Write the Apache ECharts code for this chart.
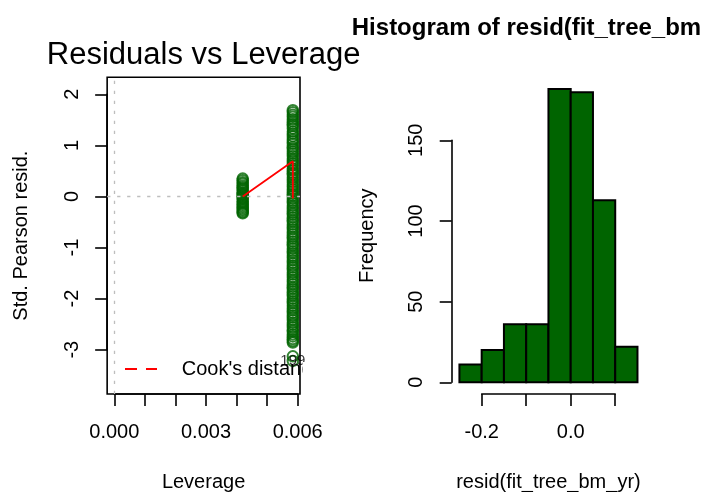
<!DOCTYPE html>
<html>
<head>
<meta charset="utf-8">
<script src="https://cdn.jsdelivr.net/npm/echarts@6/dist/echarts.min.js"></script>
<style>
html,body{margin:0;padding:0;background:#fff;}
#chart{width:701px;height:492px;}
</style>
</head>
<body>
<div id="chart"></div>
<script>
// ---------- data ----------
var leverageGroup1 = 0.0042;
var leverageGroup2 = 0.00584;
var residGroup1 = [0.35, 0.32, 0.28, 0.25, 0.21, 0.18, 0.15, 0.12, 0.08, 0.05, 0.03, 0.0, -0.03, -0.06, -0.1, -0.13, -0.16, -0.19, -0.22, -0.25, -0.28, -0.31, -0.33];
var residGroup2 = [1.69, 1.65, 1.6, 1.56, 1.51, 1.47, 1.42, 1.38, 1.33, 1.27, 1.23, 1.18, 1.12, 1.08, 1.03, 0.97, 0.93, 0.88, 0.84, 0.79, 0.74, 0.7, 0.65, 0.61, 0.55, 0.51, 0.46, 0.42, 0.37, 0.33, 0.28, 0.23, 0.19, 0.14, 0.1, 0.05, 0.01, -0.04, -0.09, -0.13, -0.18, -0.22, -0.27, -0.32, -0.36, -0.41, -0.46, -0.5, -0.55, -0.6, -0.64, -0.69, -0.74, -0.79, -0.83, -0.88, -0.93, -0.97, -1.02, -1.07, -1.11, -1.16, -1.2, -1.25, -1.3, -1.35, -1.39, -1.44, -1.49, -1.53, -1.58, -1.63, -1.67, -1.72, -1.77, -1.81, -1.86, -1.91, -1.95, -2.0, -2.05, -2.09, -2.14, -2.19, -2.23, -2.28, -2.33, -2.37, -2.42, -2.47, -2.51, -2.56, -2.61, -2.65, -2.7, -2.74, -2.79, -2.83, -2.86];
var residOutliers = [-3.13, -3.22];
var outlierLabel = '199';
var smoothPoints = [[0.0042, 0.0], [0.00584, 0.69], [0.00584, -0.04]];
var leverageTickLabels = ['0.000', '', '', '0.003', '', '', '0.006'];
var residTickLabels = ['-3', '-2', '-1', '0', '1', '2'];

var histBreaks = [-0.25, -0.2, -0.15, -0.1, -0.05, 0.0, 0.05, 0.1, 0.15];
var histCounts = [11, 20, 36, 36, 182, 180, 113, 22];
var histXTickLabels = ['-0.2', '', '0.0', ''];
var histYTickLabels = ['0', '50', '100', '150'];

var leftTitle = 'Residuals vs Leverage';
var rightTitle = 'Histogram of resid(fit_tree_bm_yr)';
var legendText = "Cook's distance";

// ---------- build ----------
var FONT = "'Liberation Sans', Arial, sans-serif";
var GREEN = '#006400';

var scatterData = [];
residGroup1.forEach(function (v) { scatterData.push([leverageGroup1, v]); });
residGroup2.forEach(function (v) { scatterData.push([leverageGroup2, v]); });
residOutliers.forEach(function (v, i) {
  var item = { value: [leverageGroup2, v] };
  if (i === residOutliers.length - 1) {
    item.label = { show: true, formatter: outlierLabel, position: 'inside', color: '#000', fontSize: 15, fontFamily: FONT };
  }
  scatterData.push(item);
});

var histData = [];
for (var i = 0; i < histCounts.length; i++) {
  histData.push([histBreaks[i], histBreaks[i + 1], histCounts[i]]);
}

var hiddenAxisBits = { axisLine: { show: false, onZero: false }, axisTick: { show: false }, axisLabel: { show: false }, splitLine: { show: false } };
function hiddenAxis(extra) { return Object.assign({}, hiddenAxisBits, extra); }

var nameStyle = { color: '#000', fontSize: 20, fontFamily: FONT };
var lineStyleBlack = { color: '#000', width: 1.6 };

function visibleAxis(extra, labels, rotate) {
  return Object.assign({
    type: 'value',
    axisLine: { show: true, onZero: false, lineStyle: lineStyleBlack },
    axisTick: { show: true, length: 12, lineStyle: lineStyleBlack },
    axisLabel: { show: true, margin: rotate ? 25 : 28, rotate: rotate || 0, color: '#000', fontSize: 20, fontFamily: FONT,
      showMinLabel: true, showMaxLabel: true, hideOverlap: false,
      formatter: function (v, idx) { return labels[idx] || ''; } },
    splitLine: { show: false }
  }, extra);
}

var gridBase = { containLabel: false, outerBoundsMode: 'none' };
function grid(extra) { return Object.assign({}, gridBase, extra); }

var chart = echarts.init(document.getElementById('chart'), null, { renderer: 'canvas' });
var option = {
  backgroundColor: '#fff',
  animation: false,
  grid: [
    grid({ left: 107.15, top: 77.3, width: 192.85, height: 316.7, show: true, borderColor: '#000', borderWidth: 1.6, backgroundColor: 'transparent' }),
    grid({ left: 114.3, top: 94.3, width: 183.4, height: 255.4 }),
    grid({ left: 452.3, top: 77.3, width: 192.3, height: 316.7 }),
    grid({ left: 481.7, top: 140.3, width: 133.5, height: 242 })
  ],
  xAxis: [
    hiddenAxis({ type: 'value', gridIndex: 0, min: -0.000234, max: 0.006074, name: 'Leverage', nameLocation: 'middle', nameGap: 78, nameTextStyle: nameStyle }),
    visibleAxis({ gridIndex: 1, min: 0, max: 0.006, interval: 0.001, position: 'bottom', offset: 44.3 }, leverageTickLabels, 0),
    hiddenAxis({ type: 'value', gridIndex: 2, min: -0.266, max: 0.166, name: 'resid(fit_tree_bm_yr)', nameLocation: 'middle', nameGap: 78, nameTextStyle: nameStyle }),
    visibleAxis({ gridIndex: 3, min: -0.2, max: 0.1, interval: 0.1, position: 'bottom', offset: 11.7 }, histXTickLabels, 0)
  ],
  yAxis: [
    hiddenAxis({ type: 'value', gridIndex: 0, min: -3.867, max: 2.333, name: 'Std. Pearson resid.', nameLocation: 'middle', nameGap: 76, nameRotate: 90, nameTextStyle: nameStyle }),
    visibleAxis({ gridIndex: 1, min: -3, max: 2, interval: 1, position: 'left', offset: 7.15 }, residTickLabels, 90),
    hiddenAxis({ type: 'value', gridIndex: 2, min: -7.28, max: 189.28, name: 'Frequency', nameLocation: 'middle', nameGap: 75, nameRotate: 90, nameTextStyle: nameStyle }),
    visibleAxis({ gridIndex: 3, min: 0, max: 150, interval: 50, position: 'left', offset: 30 }, histYTickLabels, 90)
  ],
  series: [
    {
      type: 'scatter', xAxisIndex: 0, yAxisIndex: 0, z: 2, silent: true,
      symbol: 'circle', symbolSize: 10.5,
      itemStyle: { color: 'rgba(0,0,0,0)', borderColor: GREEN, borderWidth: 2 },
      labelLayout: { hideOverlap: false },
      data: scatterData
    },
    {
      type: 'line', xAxisIndex: 0, yAxisIndex: 0, z: 3, silent: true,
      symbol: 'none', lineStyle: { color: '#ff0000', width: 1.8 },
      data: smoothPoints
    },
    {
      type: 'line', xAxisIndex: 0, yAxisIndex: 0, z: 4, silent: true, data: [],
      markLine: {
        silent: true, symbol: ['none', 'none'], label: { show: false },
        lineStyle: { color: '#bebebe', width: 1.3, type: [3.3, 6.7] },
        data: [{ xAxis: 0 }, { yAxis: 0 }]
      }
    },
    {
      type: 'custom', xAxisIndex: 2, yAxisIndex: 2, silent: true,
      renderItem: function (params, api) {
        var p0 = api.coord([api.value(0), 0]);
        var p1 = api.coord([api.value(1), api.value(2)]);
        return {
          type: 'rect',
          shape: { x: p0[0], y: p1[1], width: p1[0] - p0[0], height: p0[1] - p1[1] },
          style: { fill: GREEN, stroke: '#000', lineWidth: 2 }
        };
      },
      data: histData
    }
  ],
  graphic: [
    { type: 'text', x: 203.6, y: 55, z: 100, style: { text: leftTitle, fill: '#000', font: '31px ' + FONT, textAlign: 'center', textVerticalAlign: 'middle' } },
    { type: 'text', x: 548.5, y: 28, z: 100, style: { text: rightTitle, fill: '#000', font: 'bold 24px ' + FONT, textAlign: 'center', textVerticalAlign: 'middle' } },
    { type: 'line', z: 100, shape: { x1: 125, y1: 369, x2: 157, y2: 369 }, style: { stroke: '#ff0000', lineWidth: 1.8, lineDash: [12, 9] } },
    { type: 'text', x: 181.7, y: 369, z: 100, style: { text: legendText, fill: '#000', font: '20px ' + FONT, textAlign: 'left', textVerticalAlign: 'middle' } },
    { type: 'rect', z: 101, shape: { x: 302.5, y: 362, width: 30, height: 18 }, style: { fill: '#fff' } }
  ]
};
chart.setOption(option);
</script>
</body>
</html>
